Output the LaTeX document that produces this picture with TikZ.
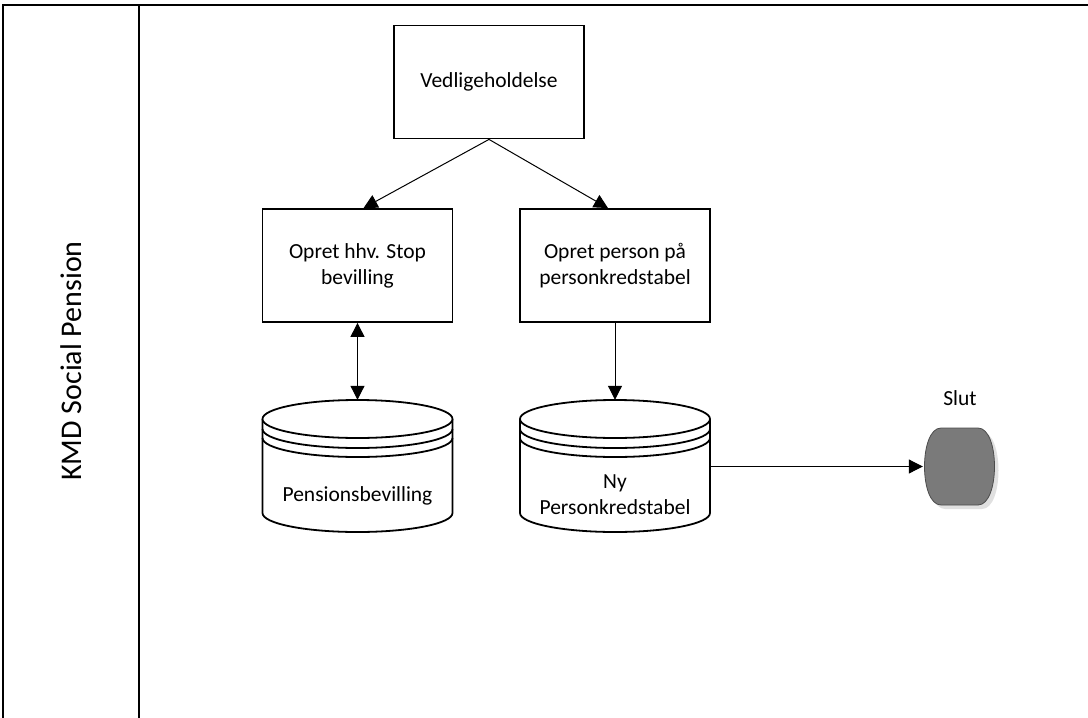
\documentclass[tikz,border=0pt]{standalone}
\usepackage{fontspec}
\setmainfont{Carlito}
\usetikzlibrary{arrows.meta,calc}
\begin{document}
\begin{tikzpicture}[x=1pt,y=-1pt,
  txt/.style={font=\fontsize{21.5}{26}\selectfont, align=center},
  procbox/.style={draw, line width=1.8pt, minimum width=190pt, minimum height=113pt, inner sep=0pt, txt},
  dbnode/.style={draw=none, minimum width=190pt, minimum height=112pt, inner sep=0pt},
  lane/.style={line width=2.8pt},
  dbline/.style={line width=1.8pt},
  conn/.style={line width=1pt, -{Triangle[length=14pt,width=14pt]}},
  conn2/.style={line width=1pt, {Triangle[length=14pt,width=14pt]}-{Triangle[length=14pt,width=14pt]}}]
\useasboundingbox (0,0) rectangle (1088,718);

% swimlane
\draw[lane] (3,718) -- (3,5) -- (1088,5);
\draw[lane] (139,5) -- (139,718);
\node[rotate=90, font=\fontsize{30}{36}\selectfont] (lanelabel) at (71,361) {KMD Social Pension};

% process boxes
\node[procbox] (ved) at (489,82) {Vedligeholdelse};
\node[procbox] (opret1) at (357.5,265.5) {Opret hhv. Stop\\bevilling};
\node[procbox] (opret2) at (615,265.5) {Opret person på\\personkredstabel};

% databases
\node[dbnode] (db1) at (357.5,456) {};
\node[dbnode] (db2) at (615,456) {};
\foreach \cx in {357.5,615}{
  \draw[dbline, fill=white] (\cx-95,419) -- (\cx-95,513) arc[start angle=180,end angle=0,x radius=95,y radius=19] -- (\cx+95,419);
  \draw[dbline, fill=white] (\cx,419) ellipse [x radius=95, y radius=19];
  \draw[dbline] (\cx-95,429) arc[start angle=180,end angle=0,x radius=95,y radius=19];
  \draw[dbline] (\cx-95,438) arc[start angle=180,end angle=0,x radius=95,y radius=19];
}
\node[txt] (db1label) at (357.5,496) {Pensionsbevilling};
\node[txt] (db2label) at (615,495) {Ny\\Personkredstabel};

% end event
\node[draw=none, minimum width=73pt, minimum height=77pt, inner sep=0pt] (slut) at (959.5,466.5) {};
\fill[black!12] (945,432) -- (982,432) .. controls (1004,432) and (1004,509) .. (982,509) -- (945,509) .. controls (923,509) and (923,432) .. (945,432) -- cycle;
\draw[draw=black!70, fill=black!52, line width=0.8pt] (941,428) -- (978,428) .. controls (1000,428) and (1000,505) .. (978,505) -- (941,505) .. controls (919,505) and (919,428) .. (941,428) -- cycle;
\node[txt] (slutlabel) at (960,398) {Slut};

% connectors
\draw[conn] (ved.south) -- ([xshift=6pt]opret1.north);
\draw[conn] (ved.south) -- ([xshift=-7pt]opret2.north);
\draw[conn2] (opret1.south) -- (db1.north);
\draw[conn] (opret2.south) -- (db2.north);
\draw[conn] (db2.east |- slut.west) -- (slut.west);
\end{tikzpicture}
\end{document}
